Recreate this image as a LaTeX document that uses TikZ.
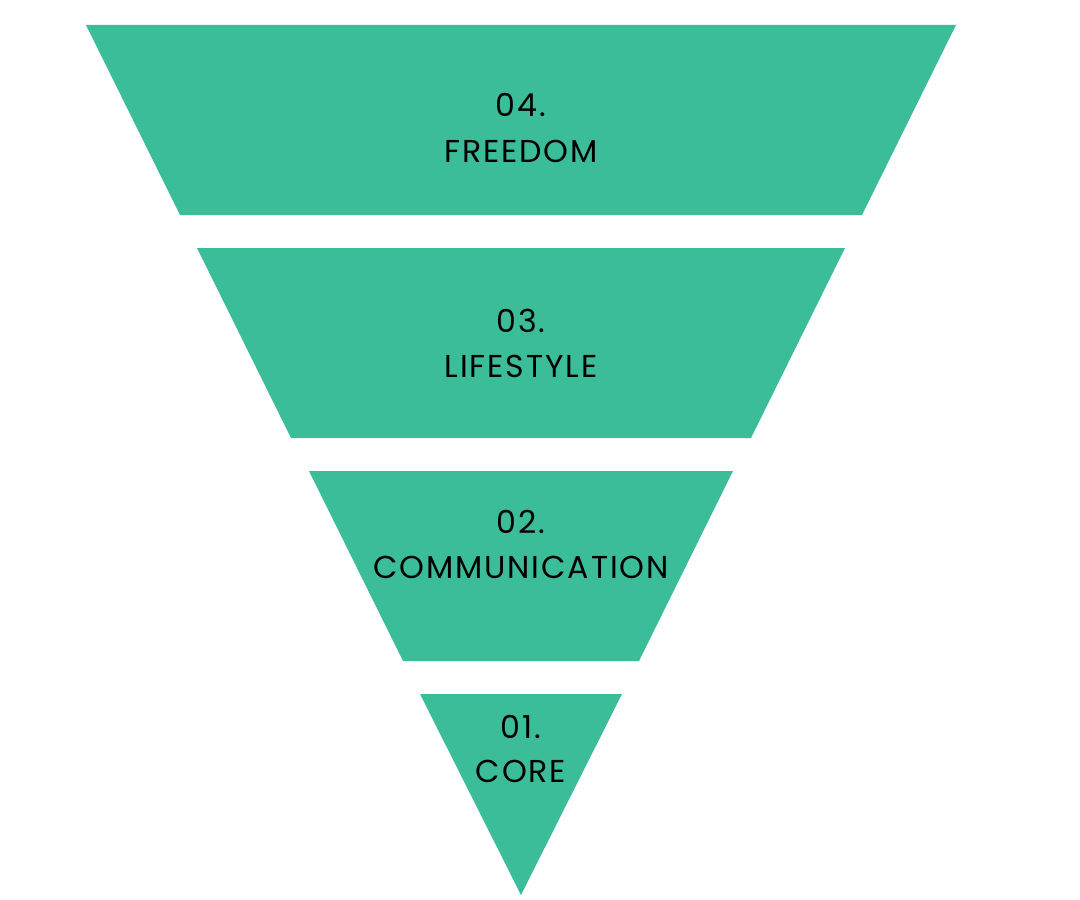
\documentclass[tikz,border=0pt]{standalone}
\usepackage{fontspec}
\setmainfont{Poppins}[LetterSpace=6]
\usepackage{xcolor}
\usepackage{tikz}
\usetikzlibrary{positioning}

\definecolor{layergreen}{HTML}{3BBD99}

\begin{document}
\begin{tikzpicture}[
    x=0.025cm, y=-0.025cm,
    layer/.style={fill=layergreen},
    label/.style={anchor=base, inner sep=0pt, font=\fontsize{22.5}{27}\selectfont, text=black}
]
    \useasboundingbox (0,0) rectangle (1080,900);

    % Layers
    \fill[layer] (86,25) -- (956,25) -- (862,215) -- (180,215) -- cycle;
    \fill[layer] (197,248) -- (845,248) -- (751,438) -- (291,438) -- cycle;
    \fill[layer] (309,471) -- (733,471) -- (639,661) -- (403,661) -- cycle;
    \fill[layer] (420,694) -- (622,694) -- (521,895) -- cycle;

    % Top layer
    \node[label] (num4) at (521,117) {04.};
    \node[label] (name4) at (521,162) {FREEDOM};

    % Second layer
    \node[label] (num3) at (521,332) {03.};
    \node[label] (name3) at (521,377) {LIFESTYLE};

    % Third layer
    \node[label] (num2) at (521,533) {02.};
    \node[label] (name2) at (521,578) {COMMUNICATION};

    % Tip
    \node[label] (num1) at (521,738) {01.};
    \node[label] (name1) at (521,782) {CORE};

\end{tikzpicture}
\end{document}
